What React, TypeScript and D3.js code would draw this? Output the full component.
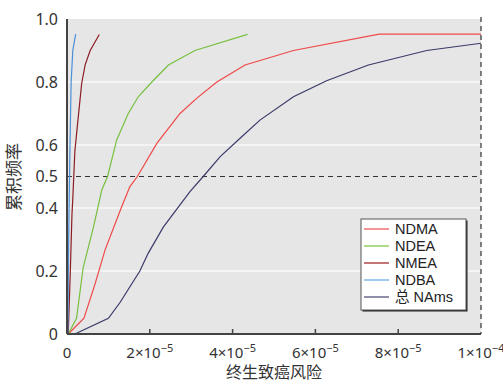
import { useEffect, useRef } from 'react';
import * as d3 from 'd3';

// x values in units of 1e-5
const ndmaX = [0.03, 0.41, 0.68, 0.92, 1.32, 1.52, 1.70, 2.17, 2.73, 3.13, 3.62, 4.30, 5.47, 7.54, 10.0];
const ndmaY = [0, 0.05, 0.16, 0.267, 0.404, 0.468, 0.50, 0.605, 0.70, 0.748, 0.80, 0.854, 0.90, 0.952, 0.952];

const ndeaX = [0.03, 0.23, 0.39, 0.64, 0.84, 0.98, 1.2, 1.48, 1.72, 2.05, 2.45, 3.09, 4.36];
const ndeaY = [0, 0.05, 0.21, 0.34, 0.457, 0.50, 0.616, 0.70, 0.753, 0.80, 0.854, 0.90, 0.951];

const nmeaX = [0.03, 0.08, 0.12, 0.14, 0.19, 0.25, 0.355, 0.44, 0.56, 0.78];
const nmeaY = [0, 0.2, 0.38, 0.43, 0.58, 0.66, 0.796, 0.855, 0.90, 0.951];

const ndbaX = [0.02, 0.04, 0.07, 0.1, 0.14, 0.21];
const ndbaY = [0, 0.3, 0.58, 0.8, 0.9, 0.952];

const namsX = [0.19, 1.0, 1.28, 1.76, 1.96, 2.33, 2.97, 3.29, 3.70, 4.22, 4.66, 5.47, 6.27, 7.28, 8.69, 10.0];
const namsY = [0, 0.05, 0.10, 0.20, 0.256, 0.34, 0.452, 0.50, 0.563, 0.626, 0.679, 0.753, 0.804, 0.854, 0.90, 0.923];

const seriesNames = ['NDMA', 'NDEA', 'NMEA', 'NDBA', '总 NAms'];
const seriesColors = ['#f04848', '#78c040', '#8c1c24', '#4a8fd8', '#3a3a6a'];
const legendColors = ['#f07070', '#90d060', '#b04848', '#80b8ea', '#6a6a90'];

const yTicks = [0, 0.2, 0.4, 0.5, 0.6, 0.8, 1.0];
const yTickLabels = ['0', '0.2', '0.4', '0.5', '0.6', '0.8', '1.0'];
const gridTicks = [0.2, 0.4, 0.6, 0.8];
const xTicks = [0, 2, 4, 6, 8, 10];

export default function App() {
  const svgRef = useRef<SVGSVGElement>(null);

  useEffect(() => {
    if (!svgRef.current) return;
    const width = 503;
    const height = 384;
    const svg = d3.select(svgRef.current);
    svg.selectAll('*').remove();

    const font = '"Noto Sans", "Noto Sans CJK SC", sans-serif';
    const legendFont = '"Liberation Sans", "Noto Sans CJK SC", sans-serif';
    const x = d3.scaleLinear().domain([0, 1e-4]).range([67, 481]);
    const y = d3.scaleLinear().domain([0, 1]).range([334, 19]);

    svg.attr('width', width).attr('height', height);

    // Plot background
    svg.append('rect')
      .attr('x', x(0))
      .attr('y', y(1))
      .attr('width', x(1e-4) - x(0))
      .attr('height', y(0) - y(1))
      .attr('fill', '#e6e6e6');

    // Gridlines
    gridTicks.forEach(t => {
      svg.append('line')
        .attr('x1', x(0)).attr('x2', x(1e-4))
        .attr('y1', y(t)).attr('y2', y(t))
        .attr('stroke', '#f8f8f8')
        .attr('stroke-width', 1.5);
    });

    // Dashed 0.5 line
    svg.append('line')
      .attr('x1', x(0)).attr('x2', x(1e-4))
      .attr('y1', y(0.5)).attr('y2', y(0.5))
      .attr('stroke', '#333')
      .attr('stroke-width', 1.2)
      .attr('stroke-dasharray', '5,4');

    // Right dashed border
    svg.append('line')
      .attr('x1', x(1e-4)).attr('x2', x(1e-4))
      .attr('y1', y(1) - 2).attr('y2', y(0))
      .attr('stroke', '#333')
      .attr('stroke-width', 1.2)
      .attr('stroke-dasharray', '5,4');

    // Series
    const allX = [ndmaX, ndeaX, nmeaX, ndbaX, namsX];
    const allY = [ndmaY, ndeaY, nmeaY, ndbaY, namsY];
    const line = d3.line<[number, number]>()
      .x(d => x(d[0] * 1e-5))
      .y(d => y(d[1]));

    [4, 0, 1, 2, 3].forEach(i => {
      const pts = allX[i].map((v, j) => [v, allY[i][j]] as [number, number]);
      svg.append('path')
        .datum(pts)
        .attr('d', line)
        .attr('fill', 'none')
        .attr('stroke', seriesColors[i])
        .attr('stroke-width', 1.2);
    });

    // Axes lines
    svg.append('line')
      .attr('x1', x(0)).attr('x2', x(0))
      .attr('y1', y(1)).attr('y2', y(0))
      .attr('stroke', '#444').attr('stroke-width', 2);
    svg.append('line')
      .attr('x1', x(0)).attr('x2', x(1e-4))
      .attr('y1', y(0)).attr('y2', y(0))
      .attr('stroke', '#444').attr('stroke-width', 2);

    // X ticks
    xTicks.slice(1, 5).forEach(t => {
      svg.append('line')
        .attr('x1', x(t * 1e-5)).attr('x2', x(t * 1e-5))
        .attr('y1', y(0)).attr('y2', y(0) - 5)
        .attr('stroke', '#444').attr('stroke-width', 1.5);
    });

    // X tick labels
    xTicks.forEach(t => {
      const txt = svg.append('text')
        .attr('x', x(t * 1e-5))
        .attr('y', 358)
        .attr('text-anchor', 'middle')
        .attr('font-family', font)
        .attr('font-size', 15)
        .attr('fill', '#333');
      if (t === 0) {
        txt.text('0');
      } else {
        const mant = t === 10 ? '1' : String(t);
        const exp = t === 10 ? '−4' : '−5';
        txt.append('tspan').text(`${mant}×10`);
        txt.append('tspan').attr('dy', -6).attr('font-size', 11).text(exp);
      }
    });

    // Y tick labels
    yTicks.forEach((t, i) => {
      svg.append('text')
        .attr('x', 58)
        .attr('y', y(t))
        .attr('dy', '0.35em')
        .attr('text-anchor', 'end')
        .attr('font-family', font)
        .attr('font-size', 16)
        .attr('fill', '#333')
        .text(yTickLabels[i]);
    });

    // Axis titles
    svg.append('text')
      .attr('x', 274)
      .attr('y', 378)
      .attr('text-anchor', 'middle')
      .attr('font-family', font)
      .attr('font-size', 16)
      .attr('fill', '#333')
      .text('终生致癌风险');

    svg.append('text')
      .attr('transform', 'translate(20,177) rotate(-90)')
      .attr('text-anchor', 'middle')
      .attr('font-family', font)
      .attr('font-size', 17)
      .attr('fill', '#333')
      .text('累积频率');

    // Legend
    const lg = svg.append('g').attr('transform', 'translate(361,219)');
    lg.append('rect')
      .attr('x', 1.5).attr('y', 1.5)
      .attr('width', 105).attr('height', 91)
      .attr('fill', '#222');
    lg.append('rect')
      .attr('x', 0).attr('y', 0)
      .attr('width', 105).attr('height', 91)
      .attr('fill', '#fff')
      .attr('stroke', '#555')
      .attr('stroke-width', 1);
    seriesNames.forEach((name, i) => {
      const ly = 10 + i * 17;
      lg.append('line')
        .attr('x1', 3).attr('x2', 28)
        .attr('y1', ly).attr('y2', ly)
        .attr('stroke', legendColors[i])
        .attr('stroke-width', 1.5);
      lg.append('text')
        .attr('x', 34)
        .attr('y', ly)
        .attr('dy', '0.36em')
        .attr('font-family', legendFont)
        .attr('font-size', 14.5)
        .attr('fill', '#222')
        .text(name);
    });
  }, []);

  return <svg ref={svgRef} style={{ display: 'block', position: 'absolute', left: 0, top: 0 }} />;
}
